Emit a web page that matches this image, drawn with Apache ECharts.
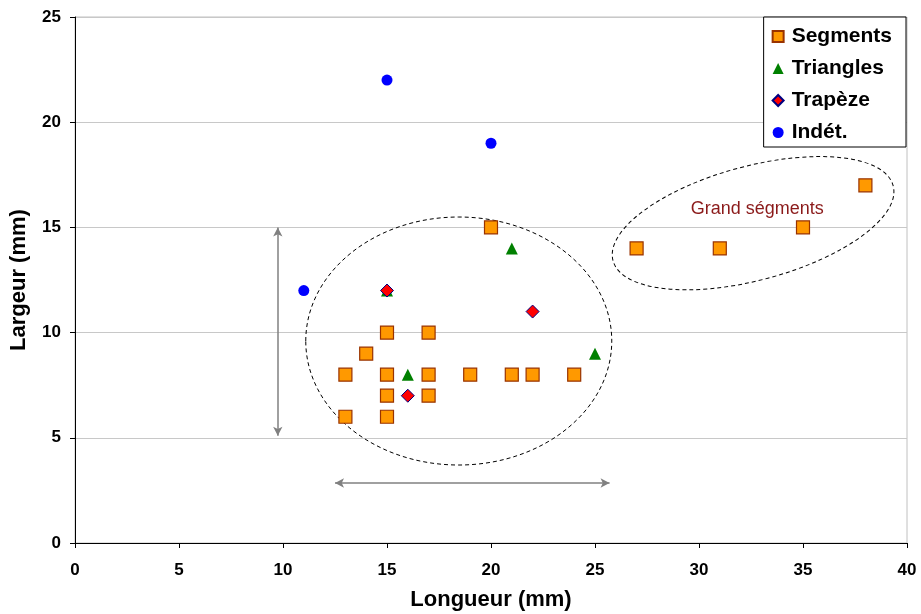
<!DOCTYPE html>
<html>
<head>
<meta charset="utf-8">
<script src="https://cdn.jsdelivr.net/npm/echarts@6/dist/echarts.min.js"></script>
<style>
  html, body { margin: 0; padding: 0; background: #fff; }
  #main { width: 921px; height: 614px; }
</style>
</head>
<body>
<div id="main"></div>
<script>
// valeurs : [longueur, largeur]
var segments = [[13,8],[13,6],[14,9],[15,10],[15,8],[15,7],[15,6],[17,10],[17,8],[17,7],
                [19,8],[20,15],[21,8],[22,8],[24,8],[27,14],[31,14],[35,15],[38,17]];
var triangles = [[15,12],[16,8],[21,14],[25,9]];
var trapeze = [[15,12],[16,7],[22,11]];
var indet = [[15,22],[20,19],[11,12]];

// annotations (en unités des axes)
var arrowV = [[9.75,15],[9.75,5.1]];
var arrowH = [[12.5,2.85],[25.7,2.85]];

var font = 'Liberation Sans, Arial, sans-serif';
var myChart = echarts.init(document.getElementById('main'));

var option = {
    animation: false,
    backgroundColor: '#fff',
    grid: {
        left: 75, right: 14, top: 17, bottom: 71,
        outerBoundsMode: 'none',
        show: true, borderColor: '#c0c0c0', borderWidth: 1
    },
    legend: {
        orient: 'vertical',
        right: 15, top: 17,
        padding: [9, 14, 4, 8],
        itemGap: 11,
        itemWidth: 11, itemHeight: 11,
        borderColor: '#000', borderWidth: 1,
        backgroundColor: '#fff',
        textStyle: { fontFamily: font, fontSize: 21, fontWeight: 'bold', color: '#000', padding: [0, 0, 0, 3] },
        data: ['Segments', 'Triangles', 'Trapèze', 'Indét.']
    },
    xAxis: {
        type: 'value', min: 0, max: 40, interval: 5,
        name: 'Longueur (mm)', nameLocation: 'middle', nameGap: 46,
        nameTextStyle: { fontFamily: font, fontSize: 22, fontWeight: 'bold', color: '#000' },
        axisLine: { onZero: false, lineStyle: { color: '#000', width: 1 } },
        axisTick: { show: true, length: 5, lineStyle: { color: '#000' } },
        axisLabel: { margin: 19, fontFamily: font, fontSize: 17, fontWeight: 'bold', color: '#000' },
        splitLine: { show: false }
    },
    yAxis: {
        type: 'value', min: 0, max: 25, interval: 5,
        name: 'Largeur (mm)', nameLocation: 'middle', nameGap: 45,
        nameTextStyle: { fontFamily: font, fontSize: 22, fontWeight: 'bold', color: '#000' },
        axisLine: { show: true, onZero: false, lineStyle: { color: '#000', width: 1 } },
        axisTick: { show: true, length: 5, lineStyle: { color: '#000' } },
        axisLabel: { margin: 14, fontFamily: font, fontSize: 17, fontWeight: 'bold', color: '#000' },
        splitLine: { show: true, lineStyle: { color: '#c8c8c8', width: 1 } }
    },
    series: [
        {
            name: 'Segments', type: 'scatter', symbol: 'rect', symbolSize: 13,
            itemStyle: { color: '#ff9900', borderColor: '#993300', borderWidth: 1.2, opacity: 1 },
            data: segments,
            markLine: {
                silent: true, symbol: ['arrow', 'arrow'], symbolSize: [7, 9],
                label: { show: false },
                lineStyle: { color: '#808080', width: 1.5, type: 'solid' },
                data: [
                    [{ coord: arrowV[0] }, { coord: arrowV[1] }],
                    [{ coord: arrowH[0] }, { coord: arrowH[1] }]
                ]
            }
        },
        {
            name: 'Triangles', type: 'scatter', symbol: 'triangle', symbolSize: 12,
            itemStyle: { color: '#008000', opacity: 1 },
            data: triangles
        },
        {
            name: 'Trapèze', type: 'scatter', symbol: 'diamond', symbolSize: 13,
            itemStyle: { color: '#ff0000', borderColor: '#000080', borderWidth: 1, opacity: 1 },
            data: trapeze
        },
        {
            name: 'Indét.', type: 'scatter', symbol: 'circle', symbolSize: 11,
            itemStyle: { color: '#0000ff', opacity: 1 },
            data: indet
        }
    ]
};
myChart.setOption(option);

// ellipses et texte placés à partir des coordonnées des axes
var c1 = myChart.convertToPixel({ gridIndex: 0 }, [18.45, 9.6]);
var c2 = myChart.convertToPixel({ gridIndex: 0 }, [32.6, 15.2]);
var t1 = myChart.convertToPixel({ gridIndex: 0 }, [32.8, 15.85]);
myChart.setOption({
    graphic: [
        {
            type: 'ellipse', silent: true, z: 1,
            shape: { cx: c1[0], cy: c1[1], rx: 153, ry: 124 },
            style: { fill: 'none', stroke: '#000', lineWidth: 1, lineDash: [4, 3] }
        },
        {
            type: 'ellipse', silent: true, z: 1,
            x: c2[0], y: c2[1], rotation: 15 * Math.PI / 180,
            shape: { cx: 0, cy: 0, rx: 145, ry: 57 },
            style: { fill: 'none', stroke: '#000', lineWidth: 1, lineDash: [4, 3] }
        },
        {
            type: 'text', silent: true, z: 5,
            x: t1[0], y: t1[1],
            style: { text: 'Grand ségments', fill: '#8b1a1a', font: '18px ' + font, align: 'center', verticalAlign: 'middle' }
        }
    ]
});
</script>
</body>
</html>
